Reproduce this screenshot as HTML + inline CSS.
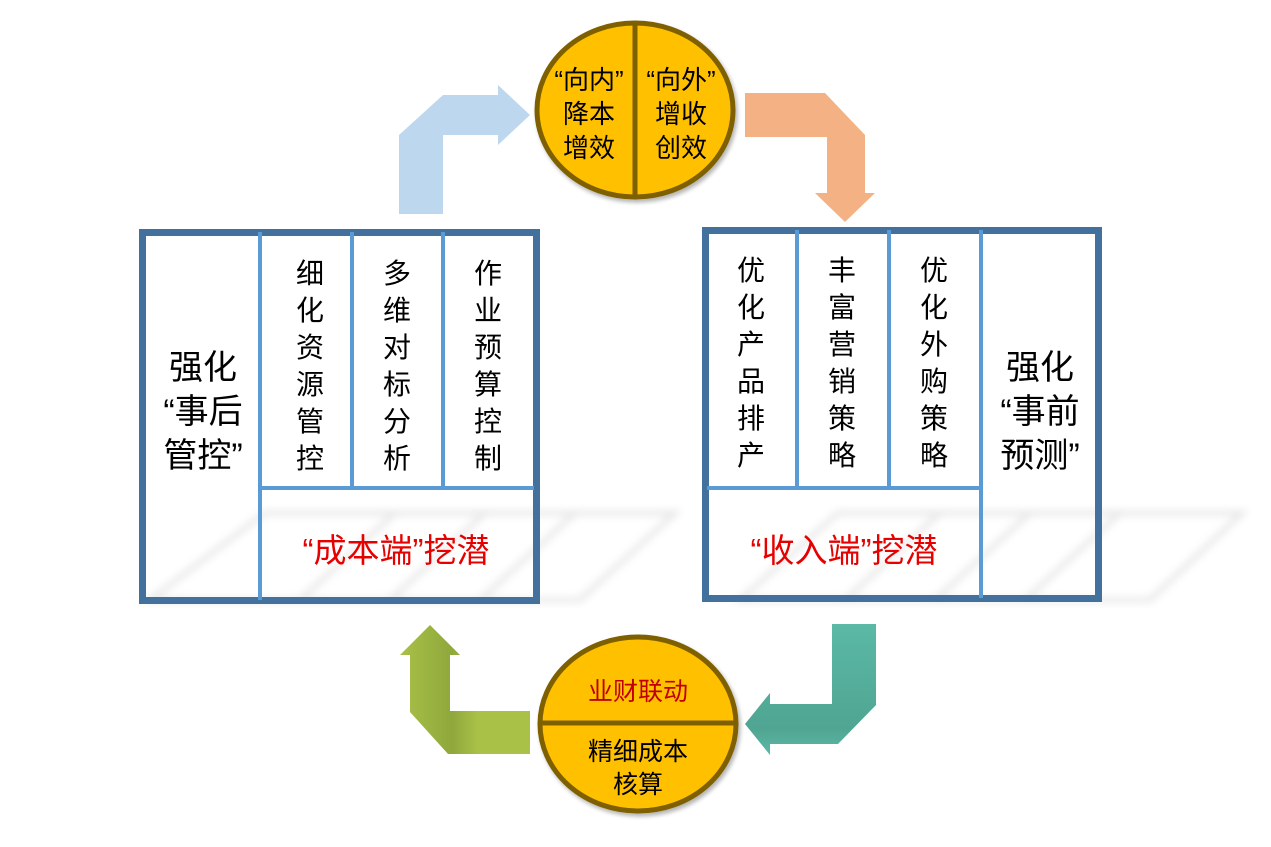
<!DOCTYPE html>
<html><head><meta charset="utf-8"><style>
html,body{margin:0;padding:0;background:#fff;}
svg{display:block;}
text{font-family:"Liberation Sans","Noto Sans CJK SC",sans-serif;}
</style></head><body>
<svg width="1271" height="847" viewBox="0 0 1271 847" xmlns="http://www.w3.org/2000/svg">
<defs>
<filter id="bl" x="-10%" y="-10%" width="120%" height="120%"><feGaussianBlur stdDeviation="4"/></filter>
<filter id="sh" x="-10%" y="-10%" width="130%" height="130%"><feGaussianBlur in="SourceAlpha" stdDeviation="2"/><feOffset dx="2" dy="3"/><feComponentTransfer><feFuncA type="linear" slope="0.3"/></feComponentTransfer><feMerge><feMergeNode/><feMergeNode in="SourceGraphic"/></feMerge></filter>
<linearGradient id="gg" x1="0" x2="1" y1="0" y2="0"><stop offset="0" stop-color="#a9c147"/><stop offset="0.4" stop-color="#8fa83c"/><stop offset="0.6" stop-color="#a9c147"/></linearGradient>
<linearGradient id="gt" x1="0" x2="0" y1="0" y2="1"><stop offset="0" stop-color="#5bb9a5"/><stop offset="0.8" stop-color="#4fa592"/><stop offset="1" stop-color="#5bb9a5"/></linearGradient>
</defs>

<!-- reflections -->
<g filter="url(#bl)" opacity="0.2" fill="none" stroke="#888" stroke-width="5">
<polygon points="265,513 675,513 580,600 150,600"/>
<line x1="395" y1="513" x2="300" y2="600"/><line x1="485" y1="513" x2="390" y2="600"/><line x1="575" y1="513" x2="480" y2="600"/>
<polygon points="838,513 1242,513 1150,600 740,600"/>
<line x1="940" y1="513" x2="845" y2="600"/><line x1="1030" y1="513" x2="935" y2="600"/><line x1="1120" y1="513" x2="1025" y2="600"/>
</g>

<!-- arrows -->
<polygon fill="#bdd7ee" points="399,214 399,135 443,95 498,95 498,85 530,115 498,145 498,135 443,135 443,214"/>
<polygon fill="#f4b183" points="745,93 825,93 865,135 865,193 875,193 845,222 815,193 827,193 827,137 745,137"/>
<polygon fill="url(#gg)" points="430,625 460,655 450,655 450,711 530,711 530,754 448,754 410,712 410,655 400,655"/>
<polygon fill="url(#gt)" points="832,624 876,624 876,705 838,744 770,744 770,755 745,724 770,693 770,704 832,704"/>

<!-- top ellipse -->
<g filter="url(#sh)">
<ellipse cx="635" cy="110" rx="98" ry="87" fill="#ffc000" stroke="#7f6000" stroke-width="5"/>
<line x1="635" y1="23" x2="635" y2="197" stroke="#7f6000" stroke-width="5"/>
</g>
<g font-size="26" fill="#000" text-anchor="middle">
<text x="589" y="89">“向内”</text><text x="589" y="123">降本</text><text x="589" y="157">增效</text>
<text x="681" y="89">“向外”</text><text x="681" y="123">增收</text><text x="681" y="157">创效</text>
</g>

<!-- bottom ellipse -->
<g filter="url(#sh)">
<ellipse cx="638" cy="724" rx="98" ry="87" fill="#ffc000" stroke="#7f6000" stroke-width="5"/>
<line x1="540" y1="723" x2="736" y2="723" stroke="#7f6000" stroke-width="5"/>
</g>
<g font-size="25" text-anchor="middle">
<text x="638" y="700" fill="#c00000">业财联动</text>
<text x="638" y="760" fill="#000">精细成本</text>
<text x="638" y="793" fill="#000">核算</text>
</g>

<!-- left box -->
<rect x="142.5" y="232.5" width="394" height="368" fill="none" stroke="#41719c" stroke-width="7"/>
<g stroke="#5b9bd5" stroke-width="4">
<line x1="260" y1="232" x2="260" y2="600"/>
<line x1="352" y1="232" x2="352" y2="488"/>
<line x1="443" y1="232" x2="443" y2="488"/>
<line x1="260" y1="488" x2="534" y2="488"/>
</g>
<g font-size="34" text-anchor="middle" fill="#000">
<text x="203" y="379">强化</text><text x="203" y="423">“事后</text><text x="203" y="467">管控”</text>
</g>
<g font-size="28" text-anchor="middle" fill="#000">
<text x="310" y="283">细</text><text x="310" y="320">化</text><text x="310" y="357">资</text><text x="310" y="394">源</text><text x="310" y="431">管</text><text x="310" y="468">控</text>
<text x="397" y="283">多</text><text x="397" y="320">维</text><text x="397" y="357">对</text><text x="397" y="394">标</text><text x="397" y="431">分</text><text x="397" y="468">析</text>
<text x="488" y="283">作</text><text x="488" y="320">业</text><text x="488" y="357">预</text><text x="488" y="394">算</text><text x="488" y="431">控</text><text x="488" y="468">制</text>
</g>
<text x="396" y="562" font-size="33" text-anchor="middle" fill="#e60000">“成本端”挖潜</text>

<!-- right box -->
<rect x="705.5" y="230.5" width="393" height="368" fill="none" stroke="#41719c" stroke-width="7"/>
<g stroke="#5b9bd5" stroke-width="4">
<line x1="797" y1="230" x2="797" y2="488"/>
<line x1="889" y1="230" x2="889" y2="488"/>
<line x1="981" y1="230" x2="981" y2="598"/>
<line x1="707" y1="488" x2="981" y2="488"/>
</g>
<g font-size="28" text-anchor="middle" fill="#000">
<text x="751" y="280">优</text><text x="751" y="317">化</text><text x="751" y="354">产</text><text x="751" y="391">品</text><text x="751" y="428">排</text><text x="751" y="465">产</text>
<text x="842" y="280">丰</text><text x="842" y="317">富</text><text x="842" y="354">营</text><text x="842" y="391">销</text><text x="842" y="428">策</text><text x="842" y="465">略</text>
<text x="934" y="280">优</text><text x="934" y="317">化</text><text x="934" y="354">外</text><text x="934" y="391">购</text><text x="934" y="428">策</text><text x="934" y="465">略</text>
</g>
<g font-size="34" text-anchor="middle" fill="#000">
<text x="1040" y="379">强化</text><text x="1040" y="423">“事前</text><text x="1040" y="467">预测”</text>
</g>
<text x="844" y="562" font-size="33" text-anchor="middle" fill="#e60000">“收入端”挖潜</text>
</svg>
</body></html>
